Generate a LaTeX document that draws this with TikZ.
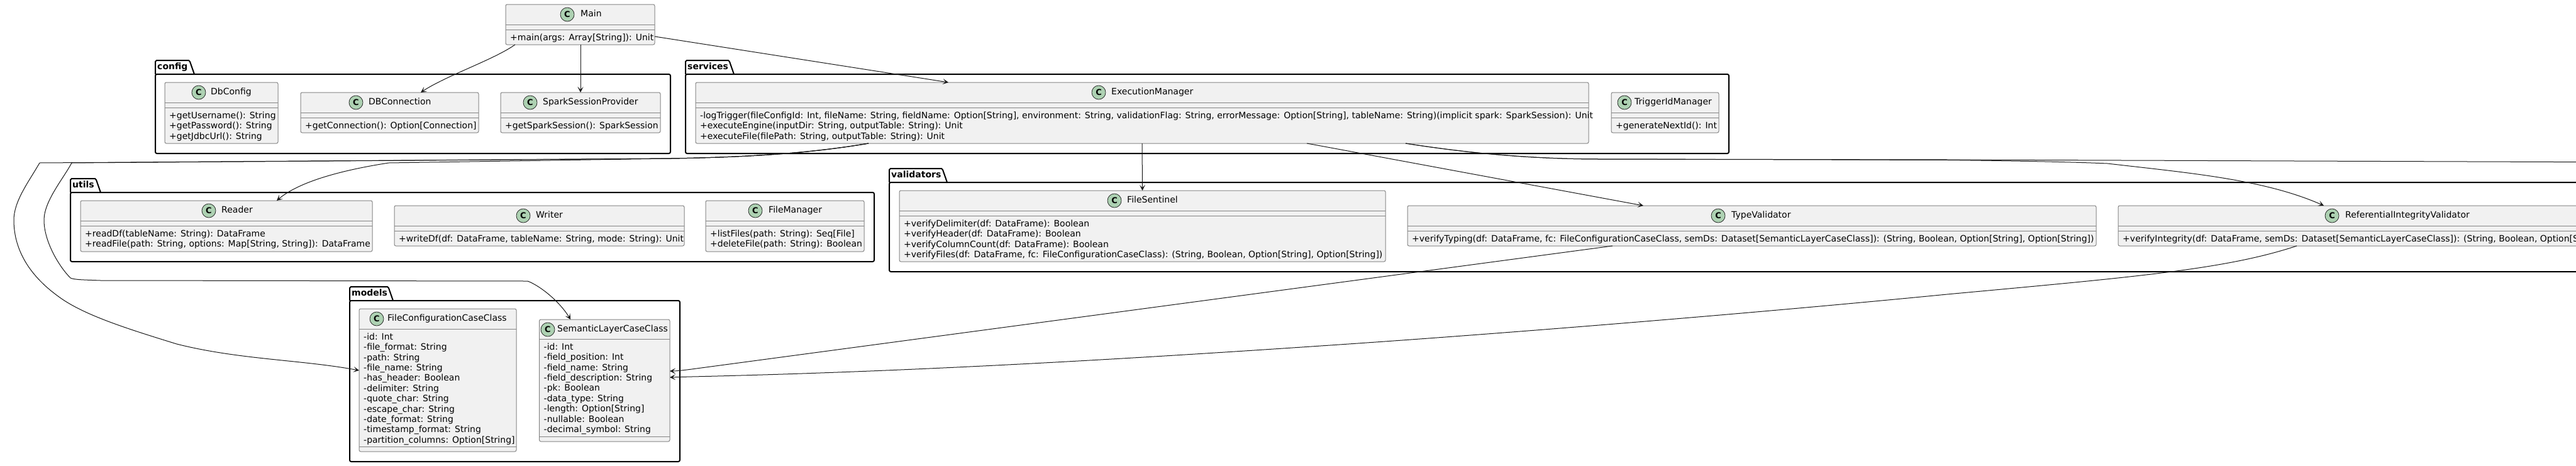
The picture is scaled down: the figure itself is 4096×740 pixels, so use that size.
\documentclass[tikz,border=0pt]{standalone}
\usepackage{fontspec}
\setmainfont{DejaVu Sans}
\usetikzlibrary{arrows.meta}
\definecolor{boxfill}{HTML}{F1F1F1}
\definecolor{boxline}{HTML}{848484}
\definecolor{iconfill}{HTML}{ADD1B2}
\definecolor{ink}{HTML}{181818}
\tikzset{
  classbox/.style={draw=boxline,fill=boxfill,line width=1pt,rounded corners=2.5pt,inner sep=0pt,outer sep=0pt},
  seprule/.style={draw=boxline,line width=1pt},
  classicon/.style={circle,draw=ink,fill=iconfill,line width=0.7pt,minimum size=22pt,inner sep=0pt,font=\fontsize{13}{13}\selectfont\bfseries},
  classtitle/.style={anchor=west,inner sep=0pt,text=black,font=\fontsize{14}{16.4}\selectfont},
  members/.style={anchor=north west,inner sep=0pt,align=left,text=black,font=\fontsize{14}{16.4}\selectfont},
  pkgbody/.style={draw=black,line width=2pt,rounded corners=2.5pt,inner sep=0pt,outer sep=0pt},
  pkgtab/.style={draw=black,line width=2pt,line join=round},
  pkglabel/.style={anchor=west,inner sep=0pt,text=black,font=\fontsize{14}{16}\selectfont\bfseries},
  conn/.style={draw=ink,line width=1pt,-{Stealth[length=9pt,width=9pt,inset=4.5pt]}}
}
% name, x1, y1, x2, y2, icon x, title x, title
\newcommand\umlbox[8]{%
  \node[classbox,minimum width={(#4-#2)*1pt},minimum height={(#5-#3)*1pt}] (#1) at ({(#2+#4)/2},{(#3+#5)/2}) {};
  \node[classicon] (#1-icon) at (#6,#3+16) {C};
  \node[classtitle] (#1-title) at (#7,#3+16) {\strut #8};
}
% name, x1, first rule, second rule, x2, rows (first baseline 17 below the rule above the rows)
\newcommand\umlrows[6]{%
  \draw[seprule] (#2,#3) -- (#5,#3);
  \draw[seprule] (#2,#4) -- (#5,#4);
  \node[members] (#1-rows) at (#2+7,#4+5) {\rule{0pt}{12pt}#6};
}
% name, x1, tab top, body top, x2, bottom, tab right, label
\newcommand\umlpkg[8]{%
  \node[pkgbody,minimum width={(#5-#2)*1pt},minimum height={(#6-#4)*1pt}] (#1) at ({(#2+#5)/2},{(#4+#6)/2}) {};
  \draw[pkgtab] (#2,#4) -- (#2,#3+2) -- (#2+2,#3) -- (#7-9,#3) -- (#7-7,#3+2) -- (#7,#4);
  \node[pkglabel] (#1-label) at (#2+3,#3+11) {\strut #8};
}
\begin{document}
\begin{tikzpicture}[x=1pt,y=-1pt]
\path[use as bounding box,clip] (0,0) rectangle (4096,740);
\fill[white] (0,0) rectangle (4096,740);

\umlpkg{config}{247}{96}{118}{1066}{244}{309}{config}
\umlpkg{services}{1090}{96}{118}{2749}{244}{1167}{services}
\umlpkg{utils}{112}{284}{306}{1390}{416}{160}{utils}
\umlpkg{validators}{1414}{268}{290}{4320}{432}{1506}{validators}
\umlpkg{models}{556}{456}{478}{1081}{734}{625}{models}

\umlbox{Main}{804}{7}{1041}{71}{902}{923}{Main}
\umlrows{Main}{804}{39}{47}{1041}{+main(args: Array[String]): Unit}

\umlbox{DbConfig}{262}{131}{442}{228}{316}{335}{DbConfig}
\umlrows{DbConfig}{262}{163}{171}{442}{+getUsername(): String\\+getPassword(): String\\+getJdbcUrl(): String}
\umlbox{DBConnection}{478}{147}{761}{211}{566}{586}{DBConnection}
\umlrows{DBConnection}{478}{179}{187}{761}{+getConnection(): Option[Connection]}
\umlbox{Spark}{796}{147}{1050}{211}{843}{863}{SparkSessionProvider}
\umlrows{Spark}{796}{179}{187}{1050}{+getSparkSession(): SparkSession}

\umlbox{Exec}{1106}{131}{2526}{228}{1747}{1767}{ExecutionManager}
\umlrows{Exec}{1106}{163}{171}{2526}{-logTrigger(fileConfigId: Int, fileName: String, fieldName: Option[String], environment: String, validationFlag: String, errorMessage: Option[String], tableName: String)(implicit spark: SparkSession): Unit\\+executeEngine(inputDir: String, outputTable: String): Unit\\+executeFile(filePath: String, outputTable: String): Unit}
\umlbox{Trigger}{2562}{147}{2733}{211}{2583}{2599}{TriggerIdManager}
\umlrows{Trigger}{2562}{179}{187}{2733}{+generateNextId(): Int}

\umlbox{Reader}{128}{319}{592}{400}{332}{352}{Reader}
\umlrows{Reader}{128}{351}{359}{592}{+readDf(tableName: String): DataFrame\\+readFile(path: String, options: Map[String, String]): DataFrame}
\umlbox{Writer}{627}{327}{1088}{391}{832}{852}{Writer}
\umlrows{Writer}{627}{359}{367}{1088}{+writeDf(df: DataFrame, tableName: String, mode: String): Unit}
\umlbox{FileManager}{1122}{319}{1374}{400}{1201}{1222}{FileManager}
\umlrows{FileManager}{1122}{351}{359}{1374}{+listFiles(path: String): Seq[File]\\+deleteFile(path: String): Boolean}

\umlbox{Sentinel}{1430}{303}{2203}{416}{1772}{1792}{FileSentinel}
\umlrows{Sentinel}{1430}{335}{343}{2203}{+verifyDelimiter(df: DataFrame): Boolean\\+verifyHeader(df: DataFrame): Boolean\\+verifyColumnCount(df: DataFrame): Boolean\\+verifyFiles(df: DataFrame, fc: FileConfigurationCaseClass): (String, Boolean, Option[String], Option[String])}
\umlbox{TypeV}{2238}{327}{3333}{391}{2732}{2753}{TypeValidator}
\umlrows{TypeV}{2238}{359}{367}{3333}{+verifyTyping(df: DataFrame, fc: FileConfigurationCaseClass, semDs: Dataset[SemanticLayerCaseClass]): (String, Boolean, Option[String], Option[String])}
\umlbox{RefV}{3368}{327}{4262}{391}{3708}{3729}{ReferentialIntegrityValidator}
\umlrows{RefV}{3368}{359}{367}{4262}{+verifyIntegrity(df: DataFrame, semDs: Dataset[SemanticLayerCaseClass]): (String, Boolean, Option[String], Option[String])}

\umlbox{FileConf}{571}{491}{821}{718}{599}{616}{FileConfigurationCaseClass}
\umlrows{FileConf}{571}{710}{523}{821}{-id: Int\\-file\_format: String\\-path: String\\-file\_name: String\\-has\_header: Boolean\\-delimiter: String\\-quote\_char: String\\-escape\_char: String\\-date\_format: String\\-timestamp\_format: String\\-partition\_columns: Option[String]}
\umlbox{Semantic}{857.5}{508}{1065}{702}{871}{886}{SemanticLayerCaseClass}
\umlrows{Semantic}{857.5}{694}{539}{1065}{-id: Int\\-field\_position: Int\\-field\_name: String\\-field\_description: String\\-pk: Boolean\\-data\_type: String\\-length: Option[String]\\-nullable: Boolean\\-decimal\_symbol: String}

\coordinate (offright) at (4200,258);

\draw[conn] ([xshift=15pt]Main.south west) .. controls (785,95) and (710,120) .. ([xshift=49.5pt]DBConnection.north);
\draw[conn] ([xshift=0.5pt]Main.south) -- (Spark.north);
\draw[conn] ([yshift=-19pt]Main.east) -- ([xshift=-308pt]Exec.north);

\draw[conn] ([xshift=-435pt]Exec.south) .. controls (1280,245) and (1180,250) .. (1067,252) -- (618,259) .. controls (560,268) and (480,285) .. ([xshift=80pt]Reader.north);
\draw[conn] ([xshift=-435pt]Exec.south) .. controls (1280,245) and (1180,250) .. (1067,252) -- (63,259) .. controls (45,290) and (22,320) .. (22,350) .. controls (22,400) and (50,440) .. (91,470) .. controls (130,500) and (200,522) .. (281,547) .. controls (380,572) and (480,572) .. ([yshift=15.5pt]FileConf.west);
\draw[conn] ([xshift=-435pt]Exec.south) .. controls (1280,245) and (1180,250) .. (1067,252) -- (114,259) .. controls (100,285) and (70,320) .. (70,350) .. controls (70,385) and (95,425) .. (112,442) .. controls (118,445) and (135,445) .. (160,446) -- (839,447) .. controls (860,455) and (890,480) .. ([xshift=-54pt]Semantic.north);

\draw[conn] (Exec.south) -- (Sentinel.north);
\draw[conn] ([xshift=262pt]Exec.south) -- (2100,232) -- ([xshift=-172.5pt]TypeV.north);
\draw[conn] ([xshift=419pt]Exec.south) .. controls (2350,246) and (2450,253) .. (2546,253) -- (3100,254.5) .. controls (3200,256) and (3280,257) .. (3351,260) .. controls (3480,275) and (3600,285) .. ([xshift=-120pt]RefV.north);
\draw[draw=ink,line width=1pt] ([xshift=419pt]Exec.south) .. controls (2350,246) and (2450,253) .. (2546,253) -- (3100,254) -- (offright);

\draw[conn] ([xshift=-221.5pt]TypeV.south) -- (1100,587) .. controls (1085,589) and (1075,590) .. ([yshift=15pt]Semantic.east);
\draw[conn] ([xshift=-163pt]RefV.south) .. controls (3540,428) and (3400,440) .. (3096,468) .. controls (2800,497) and (2400,530) .. (2100,550) .. controls (1700,577) and (1400,592) .. (1100,599) -- ([yshift=5pt]Semantic.east);
\end{tikzpicture}
\end{document}
